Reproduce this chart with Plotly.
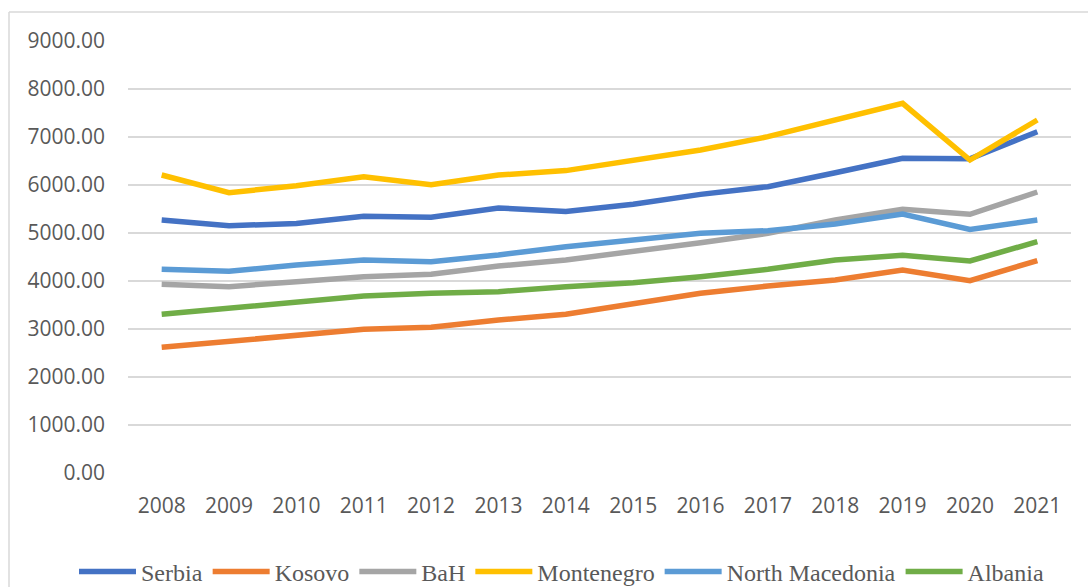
import plotly.graph_objects as go

years = [str(y) for y in range(2008, 2022)]
serbia = [5270, 5150, 5200, 5350, 5330, 5520, 5450, 5600, 5805, 5965, 6256, 6556, 6545, 7110]
kosovo = [2618, 2750, 2875, 2993, 3035, 3188, 3306, 3535, 3743, 3896, 4021, 4229, 4007, 4424]
bah = [3931, 3882, 3986, 4090, 4139, 4312, 4437, 4611, 4799, 4993, 5271, 5493, 5389, 5854]
montenegro = [6208, 5840, 5985, 6173, 6006, 6208, 6300, 6521, 6729, 7007, 7368, 7701, 6521, 7354]
north_macedonia = [4243, 4201, 4333, 4437, 4403, 4542, 4715, 4854, 4993, 5048, 5188, 5396, 5076, 5271]
albania = [3306, 3431, 3583, 3688, 3743, 3778, 3882, 3965, 4090, 4243, 4437, 4535, 4417, 4819]

series = [
    ("Serbia", serbia, "#4472C4"),
    ("Kosovo", kosovo, "#ED7D31"),
    ("BaH", bah, "#A5A5A5"),
    ("Montenegro", montenegro, "#FFC000"),
    ("North Macedonia", north_macedonia, "#5B9BD5"),
    ("Albania", albania, "#70AD47"),
]

fig = go.Figure()
for name, vals, color in series:
    fig.add_trace(go.Scatter(x=years, y=vals, name=name, mode="lines",
                             line=dict(color=color, width=5.5)))

W, H = 1088, 587
ml, mr, mt, mb = 128, 17, 41, 114
pw, ph = W - ml - mr, H - mt - mb

def px_x(p):
    return (p - ml) / pw

def px_y(p):
    return (H - mb - p) / ph

fig.update_layout(
    width=W, height=H,
    margin=dict(l=ml, r=mr, t=mt, b=mb, autoexpand=False),
    paper_bgcolor="white", plot_bgcolor="white",
    font=dict(family="Open Sans", size=21, color="#595959"),
    showlegend=True,
    legend=dict(orientation="h", x=px_x(74), xanchor="left", y=px_y(572), yanchor="middle",
                font=dict(family="Liberation Serif", size=24, color="#595959"),
                itemwidth=57, tracegroupgap=0, bgcolor="rgba(0,0,0,0)"),
    xaxis=dict(type="category", range=[-0.5, len(years) - 0.5], showgrid=False,
               zeroline=False, showline=False, ticks="", ticklabelstandoff=18,
               tickfont=dict(size=21, color="#595959")),
    yaxis=dict(range=[0, 9000], dtick=1000, tickformat=".2f", showgrid=True,
               gridcolor="#D9D9D9", gridwidth=1.5, zeroline=False, showline=False,
               ticks="", ticklabelstandoff=22, tickfont=dict(size=21, color="#595959")),
    shapes=[
        dict(type="line", xref="paper", yref="paper", x0=px_x(9), x1=px_x(9),
             y0=px_y(12), y1=px_y(600), line=dict(color="#D9D9D9", width=1.5)),
        dict(type="line", xref="paper", yref="paper", x0=px_x(9), x1=px_x(1100),
             y0=px_y(12), y1=px_y(12), line=dict(color="#D9D9D9", width=1.5)),
    ],
)

fig.write_html("out.html", config={"displayModeBar": False},
               post_script="document.body.style.margin='0px';document.body.style.overflow='hidden';")
